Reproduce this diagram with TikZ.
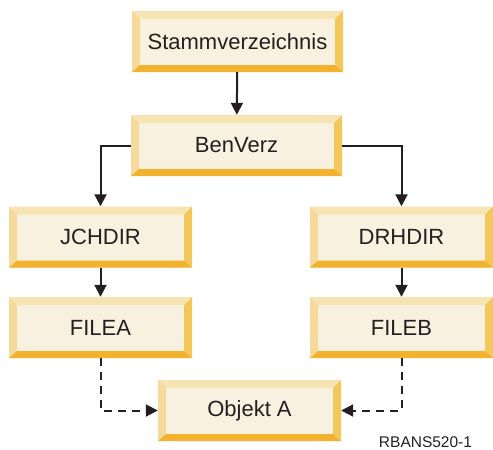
\documentclass[tikz,border=0pt]{standalone}
\usepackage{fontspec}
\setmainfont{Liberation Sans}
\usetikzlibrary{arrows.meta}

\definecolor{faceC}{HTML}{F8F1DF}
\definecolor{topC}{HTML}{F7E4B3}
\definecolor{leftC}{HTML}{F5DA9B}
\definecolor{rightC}{HTML}{F4C75B}
\definecolor{bottomC}{HTML}{F2B22E}
\definecolor{inkC}{HTML}{231F20}

\tikzset{
  bevelbox/.style={
    rectangle, inner sep=0pt, minimum height=61pt, minimum width=#1,
    fill=faceC, text=inkC, font=\fontsize{22}{26}\selectfont,
    path picture={
      \fill[topC] (path picture bounding box.north west)
        -- (path picture bounding box.north east)
        -- ([shift={(-8pt,-8pt)}]path picture bounding box.north east)
        -- ([shift={(8pt,-8pt)}]path picture bounding box.north west) -- cycle;
      \fill[leftC] (path picture bounding box.north west)
        -- ([shift={(8pt,-8pt)}]path picture bounding box.north west)
        -- ([shift={(8pt,7pt)}]path picture bounding box.south west)
        -- (path picture bounding box.south west) -- cycle;
      \fill[rightC] (path picture bounding box.north east)
        -- ([shift={(-8pt,-8pt)}]path picture bounding box.north east)
        -- ([shift={(-8pt,7pt)}]path picture bounding box.south east)
        -- (path picture bounding box.south east) -- cycle;
      \fill[bottomC] (path picture bounding box.south west)
        -- ([shift={(8pt,7pt)}]path picture bounding box.south west)
        -- ([shift={(-8pt,7pt)}]path picture bounding box.south east)
        -- (path picture bounding box.south east) -- cycle;
    }
  },
  bigbox/.style={bevelbox=211pt},
  smallbox/.style={bevelbox=183pt},
  link/.style={draw=inkC, line width=2pt,
    -{Triangle[length=12pt,width=12pt]}},
  weaklink/.style={link, dash pattern=on 8pt off 6pt},
}

\begin{document}
\begin{tikzpicture}[x=1pt,y=-1pt]
  \useasboundingbox (0,0) rectangle (493,450);

  \node[bigbox]   (root)  at (237.5,41.5)  {Stammverzeichnis};
  \node[bigbox]   (ben)   at (236.5,145.5) {BenVerz};
  \node[smallbox] (jch)   at (100.5,237)   {JCHDIR};
  \node[smallbox] (drh)   at (401.5,237)   {DRHDIR};
  \node[smallbox] (filea) at (100.5,327.5) {FILEA};
  \node[smallbox] (fileb) at (401.5,327.5) {FILEB};
  \node[smallbox] (obj)   at (249.5,410.5) {Objekt A};

  \node[text=inkC, inner sep=0pt, anchor=base,
        font=\fontsize{15.5}{18}\selectfont] (fig) at (425.5,447.5) {RBANS520-1};

  \draw[link] (root) -- (ben);
  \draw[link] (ben.west) -| (jch.north);
  \draw[link] (ben.east) -| (drh.north);
  \draw[link] (jch) -- (filea);
  \draw[link] (drh) -- (fileb);
  \draw[weaklink] (filea.south) |- (obj.west);
  \draw[weaklink] (fileb.south) |- (obj.east);
\end{tikzpicture}
\end{document}
